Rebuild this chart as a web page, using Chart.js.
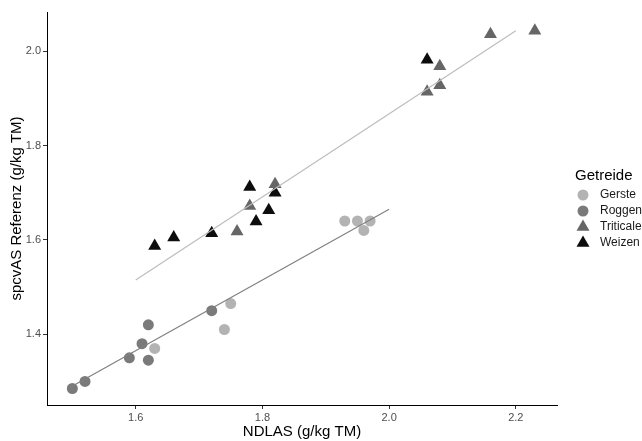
<!DOCTYPE html>
<html>
<head>
<meta charset="utf-8">
<script src="https://cdn.jsdelivr.net/npm/chart.js@4/dist/chart.umd.min.js"></script>
<style>
  body { margin: 0; background: #fff; }
  #wrap { width: 642px; height: 441px; }
</style>
</head>
<body>
<div id="wrap"><canvas id="myChart" width="642" height="441"></canvas></div>
<script>
// Values
const gersteX = [1.63, 1.74, 1.75, 1.93, 1.95, 1.96, 1.97];
const gersteY = [1.37, 1.41, 1.465, 1.64, 1.64, 1.62, 1.64];
const roggenX = [1.50, 1.52, 1.59, 1.61, 1.62, 1.62, 1.72];
const roggenY = [1.285, 1.30, 1.35, 1.38, 1.42, 1.345, 1.45];
const triticaleX = [1.76, 1.78, 1.82, 2.06, 2.08, 2.08, 2.16, 2.23];
const triticaleY = [1.618, 1.672, 1.718, 1.914, 1.928, 1.968, 2.036, 2.043];
const weizenX = [1.63, 1.66, 1.72, 1.78, 1.79, 1.81, 1.82, 2.06];
const weizenY = [1.587, 1.605, 1.614, 1.712, 1.639, 1.663, 1.700, 1.982];

// fitted lines (end points)
const fitLowX = [1.496, 2.0];
const fitLowY = [1.287, 1.665];
const fitHighX = [1.6, 2.2];
const fitHighY = [1.515, 2.043];

const xTicks = [1.6, 1.8, 2.0, 2.2];
const yTicks = [1.4, 1.6, 1.8, 2.0];

function toPoints(xs, ys) {
    return xs.map((x, i) => ({ x: x, y: ys[i] }));
}

Chart.defaults.font.family = '"Liberation Sans", Arial, sans-serif';

// ggplot-like legend on the right side
const sideLegend = {
    id: 'sideLegend',
    afterDraw(chart) {
        const ctx = chart.ctx;
        ctx.save();
        ctx.textBaseline = 'middle';
        ctx.textAlign = 'left';
        ctx.fillStyle = '#000';
        ctx.font = '15px "Liberation Sans", Arial, sans-serif';
        ctx.fillText('Getreide', 575, 176);
        ctx.font = '12px "Liberation Sans", Arial, sans-serif';
        chart.data.datasets.filter(d => d.isGroup).forEach((d, i) => {
            const y = 195 + i * 16;
            ctx.fillStyle = d.backgroundColor;
            Chart.helpers.drawPoint(ctx, {
                pointStyle: d.pointStyle,
                radius: d.pointRadius,
                rotation: 0,
                borderWidth: 0
            }, 583, y);
            ctx.fillStyle = '#1a1a1a';
            ctx.fillText(d.label, 600, y);
        });
        ctx.restore();
    }
};

function groupSet(label, xs, ys, color, style, radius) {
    return {
        label: label,
        isGroup: true,
        data: toPoints(xs, ys),
        backgroundColor: color,
        borderColor: color,
        borderWidth: 0,
        pointStyle: style,
        pointRadius: radius,
        order: 1
    };
}

function fitSet(xs, ys, color) {
    return {
        type: 'line',
        data: toPoints(xs, ys),
        borderColor: color,
        borderWidth: 1.2,
        pointRadius: 0,
        fill: false,
        order: 0
    };
}

function createChart() {
    const ctx = document.getElementById('myChart').getContext('2d');
    new Chart(ctx, {
        type: 'scatter',
        data: {
            datasets: [
                fitSet(fitLowX, fitLowY, '#808080'),
                fitSet(fitHighX, fitHighY, '#bdbdbd'),
                groupSet('Gerste', gersteX, gersteY, '#b3b3b3', 'circle', 5.5),
                groupSet('Roggen', roggenX, roggenY, '#7a7a7a', 'circle', 5.5),
                groupSet('Triticale', triticaleX, triticaleY, '#666666', 'triangle', 7.5),
                groupSet('Weizen', weizenX, weizenY, '#0d0d0d', 'triangle', 7.5)
            ]
        },
        options: {
            responsive: false,
            animation: false,
            layout: { padding: { top: 12, right: 85, left: 0, bottom: 0 } },
            plugins: {
                legend: { display: false },
                tooltip: { enabled: false }
            },
            scales: {
                x: {
                    type: 'linear',
                    min: 1.46,
                    max: 2.265,
                    afterBuildTicks: s => { s.ticks = xTicks.map(v => ({ value: v })); },
                    afterFit: s => { s.height = 36; },
                    ticks: {
                        callback: v => v.toFixed(1),
                        color: '#4d4d4d',
                        font: { size: 11 },
                        padding: 2,
                        maxRotation: 0
                    },
                    grid: { drawOnChartArea: false, drawTicks: true, tickLength: 4, color: '#333' },
                    border: { display: true, color: '#000', width: 1 },
                    title: {
                        display: true,
                        text: 'NDLAS (g/kg TM)',
                        color: '#000',
                        font: { size: 15 },
                        padding: { top: 0, bottom: 0 }
                    }
                },
                y: {
                    type: 'linear',
                    min: 1.25,
                    max: 2.083,
                    afterBuildTicks: s => { s.ticks = yTicks.map(v => ({ value: v })); },
                    afterFit: s => { s.width = 47; },
                    ticks: {
                        callback: v => v.toFixed(1),
                        color: '#4d4d4d',
                        font: { size: 11 },
                        padding: 2
                    },
                    grid: { drawOnChartArea: false, drawTicks: true, tickLength: 4, color: '#333' },
                    border: { display: true, color: '#000', width: 1 },
                    title: {
                        display: true,
                        text: 'spcvAS Referenz (g/kg TM)',
                        color: '#000',
                        font: { size: 15 },
                        padding: { top: 8, bottom: 0 }
                    }
                }
            }
        },
        plugins: [sideLegend]
    });
}

window.onload = createChart;
</script>
</body>
</html>
